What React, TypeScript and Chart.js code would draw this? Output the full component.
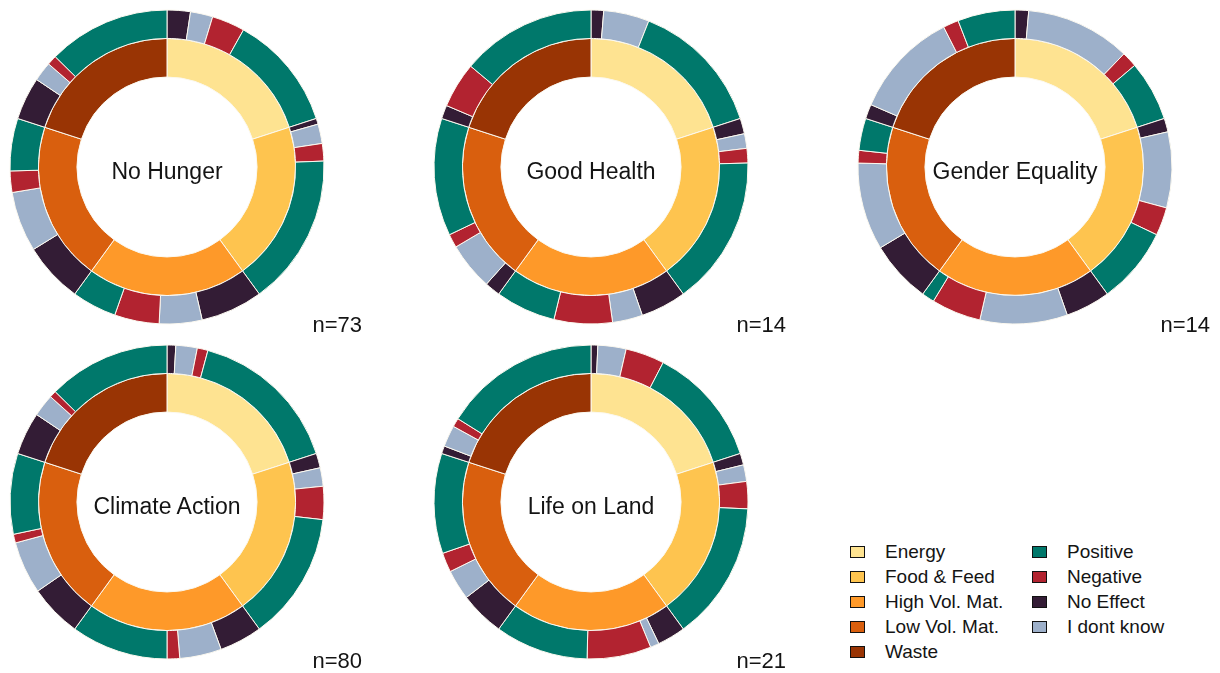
import React, { useEffect, useRef } from "react";
import { Chart, registerables } from "chart.js";

Chart.register(...registerables);

// ---- Data ----
const categories = ["Energy", "Food & Feed", "High Vol. Mat.", "Low Vol. Mat.", "Waste"];
const categoryColors = ["#FEE391", "#FEC44F", "#FE9929", "#D95F0E", "#993404"];
const categoryShares = [20, 20, 20, 20, 20];

// effect order inside each category ring segment
const effects = ["No Effect", "I dont know", "Negative", "Positive"];
const effectColors = ["#331C35", "#9DB0CA", "#B22330", "#00786B"];

// legend order
const legendEffects = ["Positive", "Negative", "No Effect", "I dont know"];

// percent of each category's answers, per category: [No Effect, I dont know, Negative, Positive]
const noHungerEffects = [
  12, 11.5, 17, 59.5,
  3, 10, 9, 78,
  32, 22, 23, 23,
  31, 31, 11, 27,
  22, 10, 5, 63,
];
const goodHealthEffects = [
  6.5, 23.5, 0, 70,
  8, 7.5, 7.5, 77,
  23.5, 15.5, 30, 31,
  8, 24.5, 7, 60.5,
  7, 0, 23.5, 69.5,
];
const genderEqualityEffects = [
  7, 54, 8, 31,
  7, 39, 14.5, 39.5,
  23, 45, 25.5, 6.5,
  32, 45, 6.5, 16.5,
  7.5, 55, 8, 29.5,
];
const climateActionEffects = [
  4.5, 11, 5.5, 79,
  7.5, 9.5, 17, 66,
  22, 21.5, 6.5, 50,
  27, 27, 4.5, 41.5,
  22, 11.5, 3.5, 63,
];
const lifeOnLandEffects = [
  3.5, 14.5, 20, 62,
  6, 8.5, 14, 71.5,
  14.5, 4.5, 33, 48,
  23, 15.5, 10, 51.5,
  4, 11, 4.5, 80.5,
];

const goalTitles = ["No Hunger", "Good Health", "Gender Equality", "Climate Action", "Life on Land"];
const goalCounts = [73, 14, 14, 80, 21];
const goalEffects = [noHungerEffects, goodHealthEffects, genderEqualityEffects, climateActionEffects, lifeOnLandEffects];

// ---- Layout ----
const centers = [
  [167, 167],
  [591, 167],
  [1015, 167],
  [167, 502],
  [591, 502],
];
const nLabelRight = [362, 786, 1210, 362, 786];
const nLabelBaseline = [333, 333, 333, 669, 669];

const CANVAS = 330;
const FONT = '"Liberation Sans", Arial, Helvetica, sans-serif';
const BORDER = "#fbf8ef";

function Donut({ idx }: { idx: number }) {
  const ref = useRef<HTMLCanvasElement | null>(null);
  useEffect(() => {
    if (!ref.current) return;
    const eff = goalEffects[idx];
    const outerData: number[] = [];
    const outerColors: string[] = [];
    const outerBorders: number[] = [];
    categories.forEach((_, ci) => {
      effects.forEach((__, ei) => {
        const v = (categoryShares[ci] * eff[ci * 4 + ei]) / 100;
        outerData.push(v);
        outerColors.push(effectColors[ei]);
        outerBorders.push(v > 0 ? 1 : 0);
      });
    });
    const outerLabels: string[] = [];
    categories.forEach((c) => effects.forEach((e) => outerLabels.push(c + " - " + e)));
    const chart = new Chart(ref.current, {
      type: "doughnut",
      data: {
        labels: outerLabels,
        datasets: [
          {
            data: outerData,
            backgroundColor: outerColors,
            borderColor: BORDER,
            borderWidth: outerBorders,
            weight: 28,
          },
          {
            data: categoryShares,
            backgroundColor: categoryColors,
            borderColor: BORDER,
            borderWidth: 1,
            weight: 38,
          },
        ],
      },
      options: {
        responsive: false,
        maintainAspectRatio: false,
        animation: false,
        radius: 157,
        cutout: "57.3%",
        layout: { padding: 0 },
        plugins: {
          legend: { display: false },
          tooltip: { enabled: false },
        },
        events: [],
      } as any,
    });
    return () => chart.destroy();
  }, [idx]);
  const [cx, cy] = centers[idx];
  return (
    <>
      <canvas
        ref={ref}
        width={CANVAS}
        height={CANVAS}
        style={{ position: "absolute", left: cx - CANVAS / 2, top: cy - CANVAS / 2, width: CANVAS, height: CANVAS }}
      />
      <div
        style={{
          position: "absolute",
          left: cx - 90,
          top: cy - 11,
          width: 180,
          height: 30,
          lineHeight: "30px",
          textAlign: "center",
          fontFamily: FONT,
          fontSize: 23,
          color: "#141414",
          whiteSpace: "nowrap",
        }}
      >
        {goalTitles[idx]}
      </div>
      <div
        style={{
          position: "absolute",
          left: nLabelRight[idx] - 100,
          top: nLabelBaseline[idx] - 21,
          width: 100,
          height: 26,
          lineHeight: "26px",
          textAlign: "right",
          fontFamily: FONT,
          fontSize: 22,
          color: "#141414",
        }}
      >
        {"n=" + goalCounts[idx]}
      </div>
    </>
  );
}

function LegendItem({ x, y, color, label }: { x: number; y: number; color: string; label: string }) {
  return (
    <>
      <div
        style={{
          position: "absolute",
          left: x,
          top: y - 6,
          width: 13,
          height: 10,
          background: color,
          border: "1px solid #111",
        }}
      />
      <div
        style={{
          position: "absolute",
          left: x + 35,
          top: y - 12,
          height: 24,
          lineHeight: "24px",
          fontFamily: FONT,
          fontSize: 19,
          color: "#141414",
          whiteSpace: "nowrap",
        }}
      >
        {label}
      </div>
    </>
  );
}

export default function App() {
  return (
    <div style={{ position: "absolute", left: 0, top: 0, width: 1220, height: 673, background: "#ffffff", overflow: "hidden" }}>
      {goalTitles.map((_, i) => (
        <Donut key={i} idx={i} />
      ))}
      {categories.map((c, i) => (
        <LegendItem key={c} x={850} y={552 + i * 25} color={categoryColors[i]} label={c} />
      ))}
      {legendEffects.map((e, i) => (
        <LegendItem key={e} x={1032} y={552 + i * 25} color={effectColors[effects.indexOf(e)]} label={e} />
      ))}
    </div>
  );
}
